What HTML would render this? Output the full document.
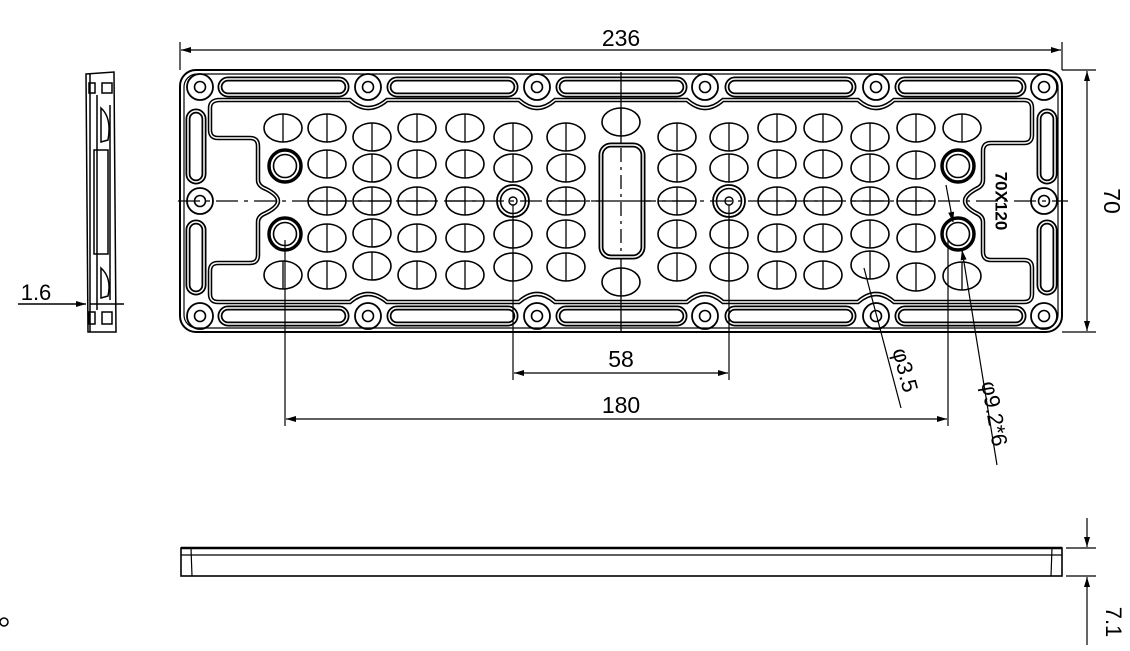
<!DOCTYPE html>
<html><head><meta charset="utf-8"><style>
html,body{margin:0;padding:0;background:#fff;}
svg{display:block;font-family:"Liberation Sans",sans-serif;}
</style></head><body>
<svg width="1130" height="651" viewBox="0 0 1130 651" xmlns="http://www.w3.org/2000/svg">
<defs>
<path id="rp" d="M220,100 H350 Q368,116 387,100 H519 Q537,116 555,100 H687 Q705,116 723,100 H858 Q876,116 894,100 H1024 Q1032,100 1032,108 V135 Q1032,143 1024,143 H991 Q983,143 983,151 V180 Q983,186 976,189 Q965,195 965,201 Q965,207 976,213 Q983,216 983,222 V252 Q983,260 991,260 H1024 Q1032,260 1032,268 V294 Q1032,302 1024,302 H894 Q876,286 858,302 H723 Q705,286 687,302 H555 Q537,286 519,302 H387 Q368,286 350,302 H218 Q210,302 210,294 V271 Q210,263 218,263 H250 Q258,263 258,255 V222 Q258,216 266,213 Q278,207 278,201 Q278,195 266,189 Q258,186 258,180 V146 Q258,138 250,138 H218 Q210,138 210,130 V108 Q210,100 220,100 Z"/>
<g id="e"><ellipse rx="19" ry="14" fill="none" stroke="#000" stroke-width="1.6"/><line x1="0" y1="-14" x2="0" y2="14" stroke="#000" stroke-width="1.3"/></g>
<g id="e3"><ellipse rx="19" ry="14" fill="none" stroke="#000" stroke-width="1.6"/><line x1="0" y1="-14" x2="0" y2="14" stroke="#000" stroke-width="1.3"/><line x1="-19" y1="0" x2="19" y2="0" stroke="#000" stroke-width="1.3"/></g>
<g id="c"><circle r="13" fill="none" stroke="#000" stroke-width="1.8"/><circle r="5.5" fill="none" stroke="#000" stroke-width="1.6"/></g>
<g id="bb"><circle r="16" fill="none" stroke="#000" stroke-width="3.5"/><circle r="11.5" fill="none" stroke="#000" stroke-width="1.6"/></g>
<g id="bs"><circle r="16" fill="none" stroke="#000" stroke-width="1.8"/><circle r="12.5" fill="none" stroke="#000" stroke-width="1.6"/><circle r="4" fill="none" stroke="#000" stroke-width="1.4"/></g>
<g id="sh"><rect x="0" y="0" width="127" height="16" rx="8" fill="none" stroke="#000" stroke-width="5"/><rect x="0" y="0" width="127" height="16" rx="8" fill="none" stroke="#fff" stroke-width="1.5"/></g>
<g id="sv"><rect x="0" y="0" width="16" height="71" rx="8" fill="none" stroke="#000" stroke-width="5"/><rect x="0" y="0" width="16" height="71" rx="8" fill="none" stroke="#fff" stroke-width="1.5"/></g>
<marker id="ar" viewBox="0 0 10 6" refX="10" refY="3" markerWidth="14" markerHeight="6" markerUnits="userSpaceOnUse" orient="auto-start-reverse"><path d="M0,0 L10,3 L0,6 z" fill="#000"/></marker>
</defs>

<rect x="180" y="70" width="882" height="262" rx="16" fill="none" stroke="#000" stroke-width="2"/>
<rect x="184" y="74" width="874" height="254" rx="13" fill="none" stroke="#000" stroke-width="1.2"/>

<use href="#rp" fill="none" stroke="#000" stroke-width="4.5"/>
<use href="#rp" fill="none" stroke="#fff" stroke-width="1.4"/>

<use href="#sh" x="220" y="79"/><use href="#sh" x="389" y="79"/><use href="#sh" x="558" y="79"/><use href="#sh" x="727" y="79"/><use href="#sh" x="897" y="79"/>
<use href="#sh" x="220" y="308"/><use href="#sh" x="389" y="308"/><use href="#sh" x="558" y="308"/><use href="#sh" x="727" y="308"/><use href="#sh" x="897" y="308"/>
<use href="#sv" x="188" y="111"/><use href="#sv" x="188" y="222"/><use href="#sv" x="1039" y="111"/><use href="#sv" x="1039" y="222"/>

<use href="#c" x="200" y="87"/><use href="#c" x="368" y="87"/><use href="#c" x="537" y="87"/><use href="#c" x="705" y="87"/><use href="#c" x="876" y="87"/><use href="#c" x="1044" y="87"/>
<use href="#c" x="200" y="316"/><use href="#c" x="368" y="316"/><use href="#c" x="537" y="316"/><use href="#c" x="705" y="316"/><use href="#c" x="876" y="316"/><use href="#c" x="1044" y="316"/>
<use href="#c" x="200" y="201"/><use href="#c" x="1044" y="201"/>

<line x1="178" y1="201" x2="1068" y2="201" stroke="#000" stroke-width="1.3" stroke-dasharray="22,6,4,6"/>
<line x1="621" y1="72" x2="621" y2="332" stroke="#000" stroke-width="1.3"/>

<use href="#e" x="283" y="128"/><use href="#e" x="283" y="275"/>
<use href="#e" x="962" y="128"/><use href="#e" x="962" y="276"/>
<g>
<use href="#e" x="327" y="128"/><use href="#e" x="327" y="164"/><use href="#e3" x="327" y="201"/><use href="#e" x="327" y="238"/><use href="#e" x="327" y="275"/>
<use href="#e" x="417" y="128"/><use href="#e" x="417" y="164"/><use href="#e3" x="417" y="201"/><use href="#e" x="417" y="238"/><use href="#e" x="417" y="275"/>
<use href="#e" x="465" y="128"/><use href="#e" x="465" y="164"/><use href="#e3" x="465" y="201"/><use href="#e" x="465" y="238"/><use href="#e" x="465" y="275"/>
<use href="#e" x="777" y="128"/><use href="#e" x="777" y="164"/><use href="#e3" x="777" y="201"/><use href="#e" x="777" y="238"/><use href="#e" x="777" y="275"/>
<use href="#e" x="823" y="128"/><use href="#e" x="823" y="164"/><use href="#e3" x="823" y="201"/><use href="#e" x="823" y="238"/><use href="#e" x="823" y="275"/>
<use href="#e" x="916" y="128"/><use href="#e" x="916" y="165"/><use href="#e3" x="916" y="201"/><use href="#e" x="916" y="238"/><use href="#e" x="916" y="277"/>
</g>
<g>
<use href="#e" x="372" y="137"/><use href="#e" x="372" y="168"/><use href="#e3" x="372" y="201"/><use href="#e" x="372" y="233"/><use href="#e" x="372" y="266"/>
<use href="#e" x="513" y="137"/><use href="#e" x="513" y="168"/><use href="#e" x="513" y="234"/><use href="#e" x="513" y="267"/>
<use href="#e" x="566" y="137"/><use href="#e" x="566" y="168"/><use href="#e3" x="566" y="201"/><use href="#e" x="566" y="234"/><use href="#e" x="566" y="267"/>
<use href="#e" x="677" y="137"/><use href="#e" x="677" y="168"/><use href="#e3" x="677" y="201"/><use href="#e" x="677" y="234"/><use href="#e" x="677" y="267"/>
<use href="#e" x="729" y="137"/><use href="#e" x="729" y="168"/><use href="#e" x="729" y="234"/><use href="#e" x="729" y="267"/>
<use href="#e" x="870" y="137"/><use href="#e" x="870" y="168"/><use href="#e3" x="870" y="201"/><use href="#e" x="870" y="234"/><use href="#e" x="870" y="265"/>
</g>
<use href="#e" x="621" y="122"/><use href="#e" x="621" y="282"/>
<rect x="601" y="145" width="42" height="112" rx="10" fill="#fff" stroke="#000" stroke-width="5"/>
<rect x="601" y="145" width="42" height="112" rx="10" fill="none" stroke="#fff" stroke-width="1.5"/>
<line x1="621" y1="148" x2="621" y2="254" stroke="#000" stroke-width="1.3" stroke-dasharray="14,5,3,5"/>
<line x1="591" y1="201" x2="651" y2="201" stroke="#000" stroke-width="1.3"/>

<use href="#bs" x="513" y="201"/><use href="#bs" x="729" y="201"/>
<use href="#bb" x="285" y="166"/><use href="#bb" x="285" y="234"/><use href="#bb" x="958" y="166"/><use href="#bb" x="958" y="234"/>

<text x="1000" y="201" transform="rotate(90 1000 201)" text-anchor="middle" font-size="17" font-weight="bold" dominant-baseline="middle">70X120</text>

<g stroke="#000" stroke-width="1.2" fill="none">
<line x1="180" y1="42" x2="180" y2="70"/><line x1="1062" y1="42" x2="1062" y2="70"/>
<line x1="181" y1="50" x2="1061" y2="50" marker-start="url(#ar)" marker-end="url(#ar)"/>
<line x1="1062" y1="70" x2="1096" y2="70"/><line x1="1062" y1="332" x2="1096" y2="332"/>
<line x1="1087" y1="71" x2="1087" y2="331" marker-start="url(#ar)" marker-end="url(#ar)"/>
<line x1="513" y1="205" x2="513" y2="380"/><line x1="729" y1="205" x2="729" y2="380"/>
<line x1="514" y1="373" x2="728" y2="373" marker-start="url(#ar)" marker-end="url(#ar)"/>
<line x1="285" y1="240" x2="285" y2="426"/><line x1="948" y1="240" x2="948" y2="426"/>
<line x1="286" y1="419" x2="947" y2="419" marker-start="url(#ar)" marker-end="url(#ar)"/>
<line x1="864" y1="268" x2="901" y2="408"/>
<line x1="946" y1="185" x2="953" y2="222" marker-end="url(#ar)"/>
<line x1="997" y1="465" x2="962" y2="250" marker-end="url(#ar)"/>
</g>
<g font-size="23" text-anchor="middle">
<text x="621" y="46">236</text>
<text x="621" y="367">58</text>
<text x="621" y="413">180</text>
<text x="1104" y="201" transform="rotate(90 1104 201)">70</text>
<text x="898" y="372" transform="rotate(75 898 372)" font-size="22">φ3.5</text>
<text x="987" y="415" transform="rotate(80 987 415)" font-size="22">φ9.2*6</text>
<text x="1106" y="622" transform="rotate(90 1106 622)" font-size="22">7.1</text>
<text x="36" y="300" font-size="22">1.6</text>
</g>

<g stroke="#000" stroke-width="1.5" fill="none">
<path d="M86,74 L114,72 L116,332 L88,332 Z"/>
<line x1="90" y1="74" x2="90" y2="332"/>
<line x1="97" y1="95" x2="97" y2="310"/>
<rect x="89" y="83" width="6" height="10"/><rect x="102" y="83" width="10" height="10"/>
<rect x="89" y="312" width="6" height="12"/><rect x="102" y="312" width="10" height="12"/>
<path d="M101,108 Q112,118 108,140 L101,142 Z"/><path d="M101,268 Q112,278 108,296 L101,298 Z"/>
<rect x="94" y="150" width="14" height="104"/>
<line x1="110" y1="105" x2="110" y2="300"/>
<line x1="18" y1="304" x2="86" y2="304" marker-end="url(#ar)"/>
<line x1="90" y1="304" x2="124" y2="304"/>
</g>

<g stroke="#000" fill="none">
<rect x="181" y="548" width="881" height="28" stroke-width="1.6"/>
<line x1="181" y1="548" x2="1062" y2="548" stroke-width="2.5"/>
<line x1="181" y1="555" x2="1062" y2="555" stroke-width="1.3"/>
<line x1="191" y1="548" x2="192" y2="576" stroke-width="1.2"/>
<line x1="1052" y1="548" x2="1051" y2="576" stroke-width="1.2"/>
<line x1="1066" y1="548" x2="1096" y2="548" stroke-width="1.2"/>
<line x1="1066" y1="576" x2="1096" y2="576" stroke-width="1.2"/>
<line x1="1087" y1="518" x2="1087" y2="547" stroke-width="1.2" marker-end="url(#ar)"/>
<line x1="1087" y1="645" x2="1087" y2="577" stroke-width="1.2" marker-end="url(#ar)"/>
<circle cx="4" cy="622" r="4" stroke-width="1.5"/>
</g>
</svg>
</body></html>
